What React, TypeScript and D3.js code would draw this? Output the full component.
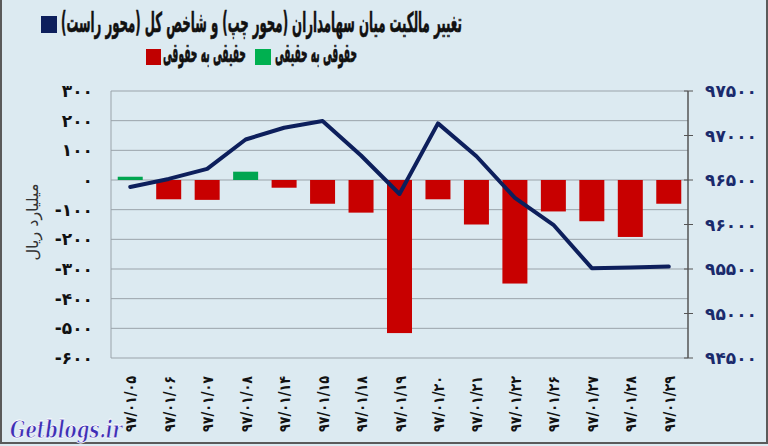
import React from "react";
import * as d3 from "d3";

const categories = [
  "۹۷/۰۱/۰۵", "۹۷/۰۱/۰۶", "۹۷/۰۱/۰۷", "۹۷/۰۱/۰۸", "۹۷/۰۱/۱۴",
  "۹۷/۰۱/۱۵", "۹۷/۰۱/۱۸", "۹۷/۰۱/۱۹", "۹۷/۰۱/۲۰", "۹۷/۰۱/۲۱",
  "۹۷/۰۱/۲۲", "۹۷/۰۱/۲۶", "۹۷/۰۱/۲۷", "۹۷/۰۱/۲۸", "۹۷/۰۱/۲۹",
];
// حقیقی به حقوقی (red, billion rial)
const redValues = [0, -65, -67, 0, -26, -80, -110, -516, -65, -150, -349, -106, -139, -192, -80];
// حقوقی به حقیقی (green, billion rial)
const greenValues = [11, 0, 0, 28, 0, 0, 0, 0, 0, 0, 0, 0, 0, 0, 0];
// شاخص کل (right axis)
const indexValues = [96422, 96512, 96625, 96955, 97087, 97162, 96775, 96343, 97136, 96767, 96298, 95997, 95509, 95516, 95527];

const leftTicks = [300, 200, 100, 0, -100, -200, -300, -400, -500, -600];
const rightTicks = [97500, 97000, 96500, 96000, 95500, 95000, 94500];

const titleText = "تغییر مالکیت میان سهامداران (محور چپ) و شاخص کل (محور راست)";
const legendRed = "حقیقی به حقوقی";
const legendGreen = "حقوقی به حقیقی";
const leftAxisTitle = "میلیارد ریال";

const toFa = (n: number) =>
  String(n).replace(/\d/g, (d) => "۰۱۲۳۴۵۶۷۸۹"[+d]);

// Text that is horizontally scaled to fit a target box [x0, x1]
function FitText(props: { x0: number; x1: number; y: number; size: number; sy: number; children: string }) {
  const ref = React.useRef<SVGTextElement>(null);
  const [sx, setSx] = React.useState(1);
  React.useLayoutEffect(() => {
    if (ref.current) {
      const bb = ref.current.getBBox();
      if (bb.width > 0) setSx((props.x1 - props.x0) / bb.width);
    }
  }, []);
  const cx = (props.x0 + props.x1) / 2;
  return (
    <g transform={`translate(${cx},${props.y}) scale(${sx},${props.sy})`}>
      <text ref={ref} x={0} y={0} direction="rtl" textAnchor="middle" fontSize={props.size} fontWeight="bold" fill="#111" stroke="#111" strokeWidth={0.5}>{props.children}</text>
    </g>
  );
}

export default function App() {
  const W = 768, H = 446;
  const plot = { left: 111, right: 688, top: 91, bottom: 358 };
  const xc = d3.scalePoint<string>().domain(categories).range([plot.left, plot.right]).padding(0.5);
  const yL = d3.scaleLinear().domain([-600, 300]).range([plot.bottom, plot.top]);
  const yR = d3.scaleLinear().domain([94500, 97500]).range([plot.bottom, plot.top]);
  const line = d3.line<number>().x((_, i) => xc(categories[i])!).y((d) => yR(d));
  const font = "'DejaVu Sans', sans-serif";
  const bw = 25;

  return (
    <svg width={W} height={H} style={{ position: "absolute", left: 0, top: 0 }} fontFamily={font}>
      <rect x={0} y={0} width={W} height={H} fill="#dceaf1" />
      <rect x={1} y={-2} width={W - 2} height={H - 1} fill="none" stroke="#5a5a5a" strokeWidth={2} />

      {/* title & legend */}
      <rect x={41} y={16} width={16} height={17} fill="#0d1f5c" />
      <FitText x0={61} x1={462} y={32} size={24} sy={1.15}>{titleText}</FitText>
      <rect x={146} y={49} width={15} height={16} fill="#c00000" />
      <FitText x0={163} x1={246} y={62} size={20} sy={1.3}>{legendRed}</FitText>
      <rect x={255} y={49} width={16} height={16} fill="#00b050" />
      <FitText x0={275} x1={357} y={62} size={20} sy={1.3}>{legendGreen}</FitText>

      {/* gridlines */}
      {leftTicks.map((t) => (
        <line key={t} x1={plot.left} x2={plot.right} y1={yL(t)} y2={yL(t)} stroke="#9aa3aa" strokeWidth={1} />
      ))}
      <line x1={plot.left} x2={plot.left} y1={plot.top} y2={plot.bottom} stroke="#9aa3aa" />

      {/* bars */}
      {categories.map((c, i) => (
        <g key={c}>
          {redValues[i] !== 0 && (
            <rect x={xc(c)! - bw / 2} y={yL(0)} width={bw} height={yL(redValues[i]) - yL(0)} fill="#c80000" />
          )}
          {greenValues[i] !== 0 && (
            <rect x={xc(c)! - bw / 2} y={yL(greenValues[i])} width={bw} height={yL(0) - yL(greenValues[i])} fill="#00a550" />
          )}
        </g>
      ))}

      {/* index line */}
      <path d={line(indexValues)!} fill="none" stroke="#0d1f5c" strokeWidth={4} strokeLinejoin="round" strokeLinecap="round" />

      {/* right axis */}
      <line x1={plot.right} x2={plot.right} y1={plot.top} y2={plot.bottom} stroke="#555" strokeWidth={1.5} />
      {rightTicks.map((t) => (
        <g key={t}>
          <line x1={plot.right - 4} x2={plot.right + 5} y1={yR(t)} y2={yR(t)} stroke="#555" />
          <text x={705} y={yR(t) + 6} fontSize={17} fontWeight="bold" fill="#1a2a6c" textLength={52} lengthAdjust="spacingAndGlyphs">{toFa(t)}</text>
        </g>
      ))}

      {/* left axis labels */}
      {leftTicks.map((t) => (
        <text key={t} x={93} y={yL(t) + 6} textAnchor="end" fontSize={17} fontWeight="bold" fill="#111">{toFa(t)}</text>
      ))}
      <text transform={`translate(38,222) rotate(-90)`} textAnchor="middle" direction="rtl" fontSize={16} fill="#333">{leftAxisTitle}</text>

      {/* category labels */}
      {categories.map((c) => (
        <text key={c} transform={`translate(${xc(c)! + 6},376) rotate(-90)`} textAnchor="end" fontSize={15} fontWeight="bold" fill="#111" textLength={56} lengthAdjust="spacingAndGlyphs">{c}</text>
      ))}

      {/* watermark text */}
      <text x={10} y={438} fontFamily="'DejaVu Serif', serif" fontStyle="italic" fontWeight="bold" fontSize={25} fill="#3d2fb5" stroke="#fff" strokeWidth={0.8} textLength={112} lengthAdjust="spacingAndGlyphs">Getblogs.ir</text>
    </svg>
  );
}
